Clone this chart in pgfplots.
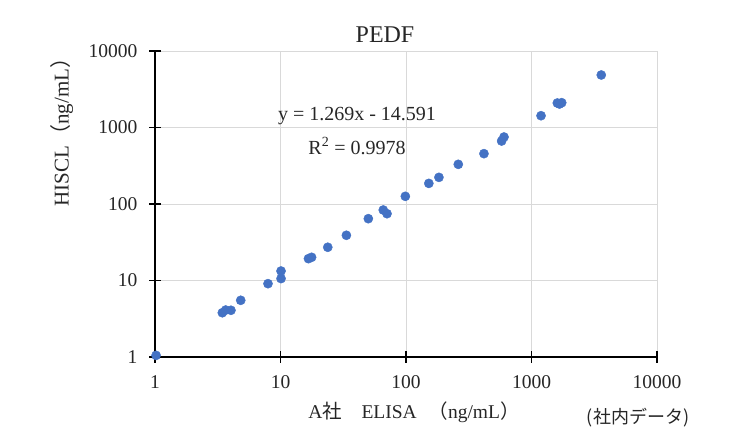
\documentclass[border=0pt]{standalone}
\usepackage{pgfplots}
\pgfplotsset{compat=1.18}
\usepackage{fontspec}
\setmainfont{Liberation Serif}
\newfontfamily\jp{Noto Sans CJK JP}
\definecolor{excelblue}{RGB}{68,114,196}
\definecolor{gridgray}{RGB}{217,217,217}
\begin{document}
\begin{tikzpicture}
\useasboundingbox (0pt,0pt) rectangle (753pt,440pt);
\begin{axis}[
  at={(155pt,83pt)}, anchor=south west,
  width=502pt, height=306pt, scale only axis,
  xmode=log, ymode=log,
  xmin=1, xmax=10000, ymin=1, ymax=10000,
  xtick={1,10,100,1000,10000}, ytick={1,10,100,1000,10000},
  xticklabels={1,10,100,1000,10000}, yticklabels={1,10,100,1000,10000},
  xminorticks=false, yminorticks=false,
  axis x line*=bottom, axis y line*=left,
  axis line style={black, line width=2pt},
  grid=major, major grid style={gridgray, line width=0.8pt},
  major tick length=12pt, tick align=center,
  tick style={black, line width=1.6pt},
  tick label style={font=\fontsize{19.5}{22}\selectfont, text=black!85},
  xticklabel style={yshift=-9pt},
  yticklabel style={xshift=-8pt},
  clip=false,
]
\addplot[only marks, mark=*, mark size=4.6pt, mark options={fill=excelblue, draw=excelblue}] coordinates {
(1.02,1.05)
(3.44,3.79)
(3.66,4.11)
(4.03,4.08)
(4.82,5.51)
(7.95,9.09)
(10.1,13.3)
(10.1,10.6)
(16.7,19.3)
(17.7,20.1)
(23.8,27.2)
(33.5,39.0)
(50.1,64.3)
(65.9,83.5)
(70.6,74.7)
(98.8,126)
(152,186)
(183,223)
(261,330)
(418,455)
(578,666)
(604,751)
(1191,1426)
(1606,2090)
(1671,2028)
(1741,2110)
(3597,4858)
};
\end{axis}
\node[font=\fontsize{24}{28}\selectfont, text=black!85] at (385pt,405pt) {PEDF};
\node[font=\fontsize{20}{24}\selectfont, text=black!85] at (357pt,324pt) {y = 1.269x - 14.591};
\node[font=\fontsize{20}{24}\selectfont, text=black!85] at (357pt,294pt) {R\textsuperscript{2} = 0.9978};
\node[rotate=90, font=\fontsize{21}{24}\selectfont, text=black!85] at (62pt,313pt) {HISCL{\jp （}ng/mL{\jp ）}};
\node[font=\fontsize{19.5}{22}\selectfont, text=black!85] at (414pt,28pt) {A{\jp 社}\hspace{1em}ELISA\hspace{0.6em}{\jp （}ng/mL{\jp ）}};
\node[font=\jp\fontsize{18}{21}\selectfont, text=black!85] at (638pt,22pt) {(社内データ)};
\end{tikzpicture}
\end{document}
